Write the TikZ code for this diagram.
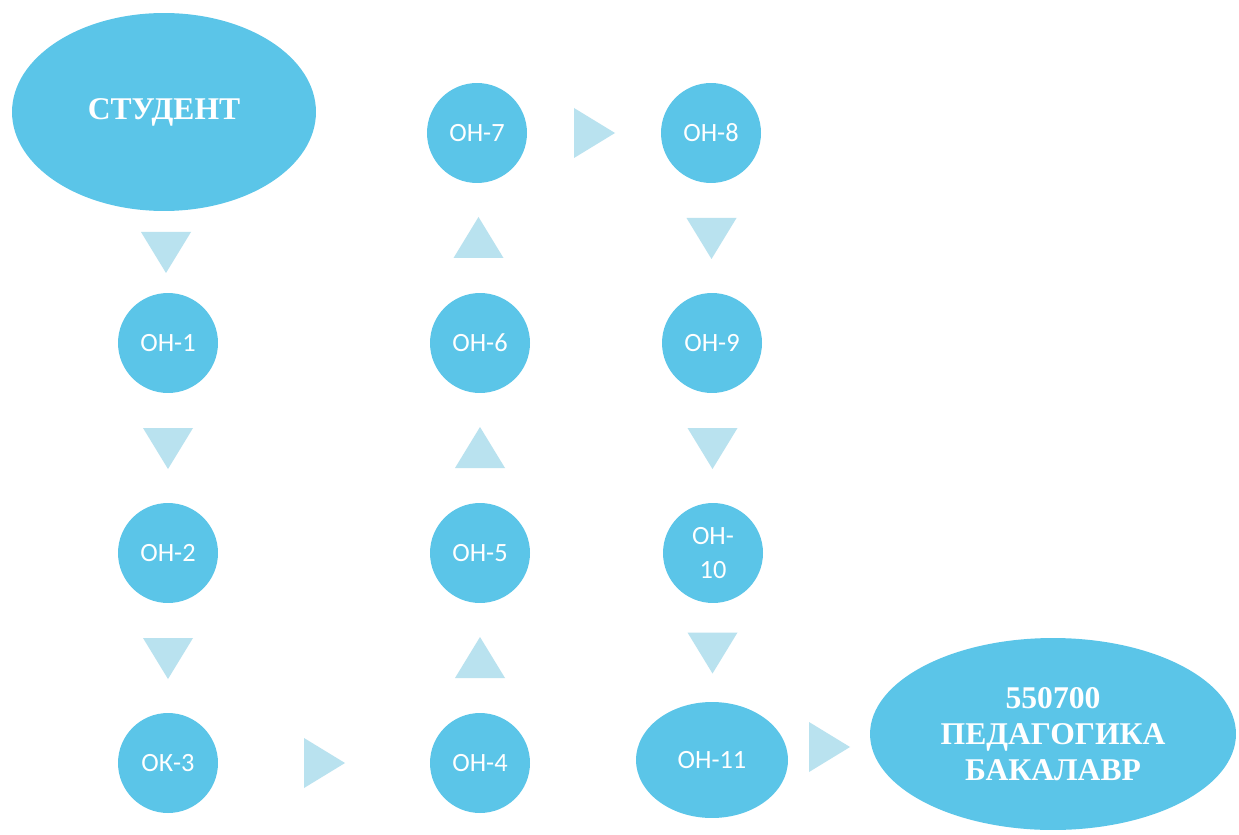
\documentclass[tikz,border=0pt]{standalone}
\usepackage{fontspec}
\setmainfont{Liberation Serif}
\newfontfamily\carlito{Carlito}
\usetikzlibrary{shapes.geometric, calc}
\definecolor{skyc}{HTML}{5BC5E8}
\definecolor{tric}{HTML}{B9E2EF}
\tikzset{
  oncirc/.style={circle, fill=skyc, minimum size=2cm, inner sep=0pt, text=white,
    font=\carlito\fontsize{15}{19}\selectfont, align=center},
  bigoval/.style={ellipse, fill=skyc, inner sep=0pt, text=white,
    font=\bfseries\fontsize{18}{20.5}\selectfont, align=center},
  flowtri/.pic={\fill[tric] (-20,-25) -- (21,0) -- (-20,25) -- cycle;}
}

\begin{document}
\begin{tikzpicture}[x=0.02cm, y=-0.02cm]
  \fill[white] (0,0) rectangle (1239,834);
  \useasboundingbox (0,0) rectangle (1239,834);

  % узлы
  \node[bigoval, minimum width=6.08cm, minimum height=3.96cm] (stud) at (164,112) {СТУДЕНТ};
  \node[oncirc] (on1) at (168,343) {ОН-1};
  \node[oncirc] (on2) at (168,553) {ОН-2};
  \node[oncirc] (ok3) at (168,763) {ОК-3};
  \node[oncirc] (on4) at (480,763) {ОН-4};
  \node[oncirc] (on5) at (480,553) {ОН-5};
  \node[oncirc] (on6) at (480,343) {ОН-6};
  \node[oncirc] (on7) at (477,133) {ОН-7};
  \node[oncirc] (on8) at (711,133) {ОН-8};
  \node[oncirc] (on9) at (712,343) {ОН-9};
  \node[oncirc] (on10) at (713,553) {ОН-\\10};
  \node[oncirc, ellipse, minimum width=3.04cm, minimum height=2.32cm] (on11) at (712,760) {ОН-11};
  \node[bigoval, minimum width=7.32cm, minimum height=3.84cm] (bak) at (1053,734) {550700\\ПЕДАГОГИКА\\БАКАЛАВР};

  % стрелки-треугольники
  \pic[rotate=-90] at ($(stud.south)!0.5!(on1.north)$) {flowtri};
  \pic[rotate=-90] at ($(on1.south)!0.5!(on2.north)$) {flowtri};
  \pic[rotate=-90] at ($(on2.south)!0.5!(ok3.north)$) {flowtri};
  \pic at ($(ok3.east)!0.5!(on4.west)$) {flowtri};
  \pic[rotate=90] at ($(on4.north)!0.5!(on5.south)$) {flowtri};
  \pic[rotate=90] at ($(on5.north)!0.5!(on6.south)$) {flowtri};
  \pic[rotate=90] at ($(on6.north)!0.5!(on7.south)$) {flowtri};
  \pic at ($(on7.east)!0.5!(on8.west)$) {flowtri};
  \pic[rotate=-90] at ($(on8.south)!0.5!(on9.north)$) {flowtri};
  \pic[rotate=-90] at ($(on9.south)!0.5!(on10.north)$) {flowtri};
  \pic[rotate=-90] at ($(on10.south)!0.5!(on11.north)$) {flowtri};
  \pic at ($(on11.east)!0.5!(bak.west)$) {flowtri};
\end{tikzpicture}
\end{document}
